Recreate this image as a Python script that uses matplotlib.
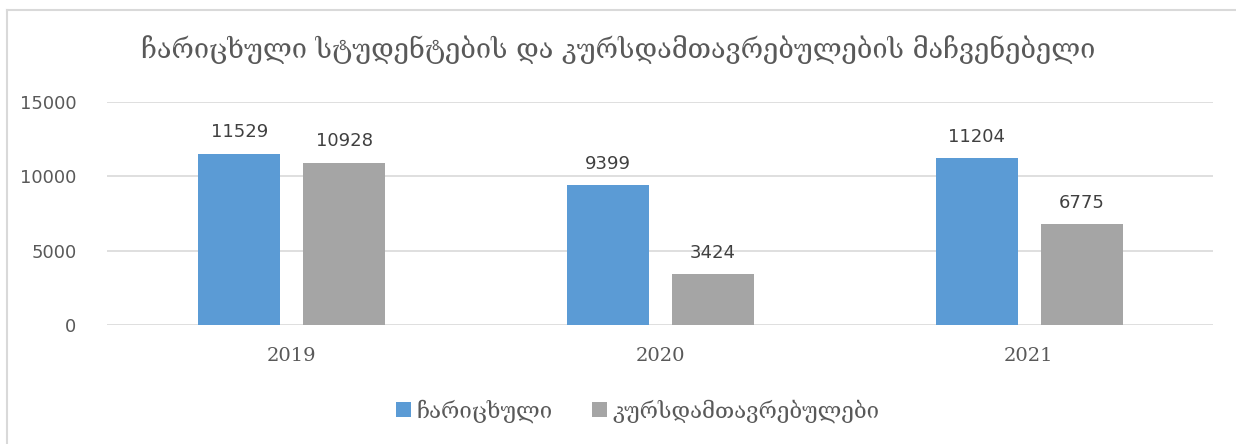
import numpy as np
import matplotlib.pyplot as plt
from matplotlib.lines import Line2D

years = ["2019", "2020", "2021"]
enrolled = [11529, 9399, 11204]
graduates = [10928, 3424, 6775]
series_names = ["ჩარიცხული", "კურსდამთავრებულები"]
title = "ჩარიცხული სტუდენტების და კურსდამთავრებულების მაჩვენებელი"

blue = "#5B9BD5"
grey = "#A5A5A5"
text_col = "#595959"
geo_fonts = ["DejaVu Serif", "DejaVu Sans"]

fig = plt.figure(figsize=(12.36, 4.44), dpi=100)
ax = fig.add_axes([107 / 1236, 1 - 325 / 444, (1213 - 107) / 1236, (325 - 102) / 444])

x = np.arange(len(years))
w = 0.222
b1 = ax.bar(x - 0.141, enrolled, w, color=blue, label=series_names[0], zorder=2)
b2 = ax.bar(x + 0.144, graduates, w, color=grey, label=series_names[1], zorder=2)

# value labels above bars
for bars in (b1, b2):
    for r in bars:
        ax.annotate(f"{int(r.get_height())}", (r.get_x() + r.get_width() / 2, r.get_height()),
                    xytext=(0, 9), textcoords="offset points", ha="center", va="bottom",
                    fontsize=13, color="#404040", family="DejaVu Sans")

ax.set_xlim(-0.5, 2.5)
ax.set_ylim(0, 15000)
ax.set_yticks([0, 5000, 10000, 15000])
ax.yaxis.grid(True, color="#D9D9D9", linewidth=1.2, zorder=0)
ax.set_axisbelow(True)
for s in ax.spines.values():
    s.set_visible(False)
ax.tick_params(axis="both", length=0)
ax.tick_params(axis="y", labelsize=13, labelcolor=text_col, pad=22)
ax.set_xticks(x)
ax.set_xticklabels(years, fontsize=14, color=text_col, family="DejaVu Serif")
ax.tick_params(axis="x", pad=16)

fig.text(0.5, 1 - 50 / 444, title, ha="center", va="center", fontsize=19.5,
         color=text_col, family=geo_fonts)

leg = fig.legend(loc="center", bbox_to_anchor=(0.516, 1 - 411 / 444), ncol=2, frameon=False,
                 prop={"family": geo_fonts, "size": 16},
                 handlelength=0.65, handleheight=0.65, handletextpad=0.25, columnspacing=1.8)
for t in leg.get_texts():
    t.set_color(text_col)

# chart frame (only left and top edges are visible in the crop)
fig.add_artist(Line2D([7 / 1236, 7 / 1236], [0, 1 - 10 / 444], transform=fig.transFigure,
                      color="#D9D9D9", linewidth=1.5))
fig.add_artist(Line2D([7 / 1236, 1], [1 - 10 / 444, 1 - 10 / 444], transform=fig.transFigure,
                      color="#D9D9D9", linewidth=1.5))

fig.savefig("out.png", dpi=100)
